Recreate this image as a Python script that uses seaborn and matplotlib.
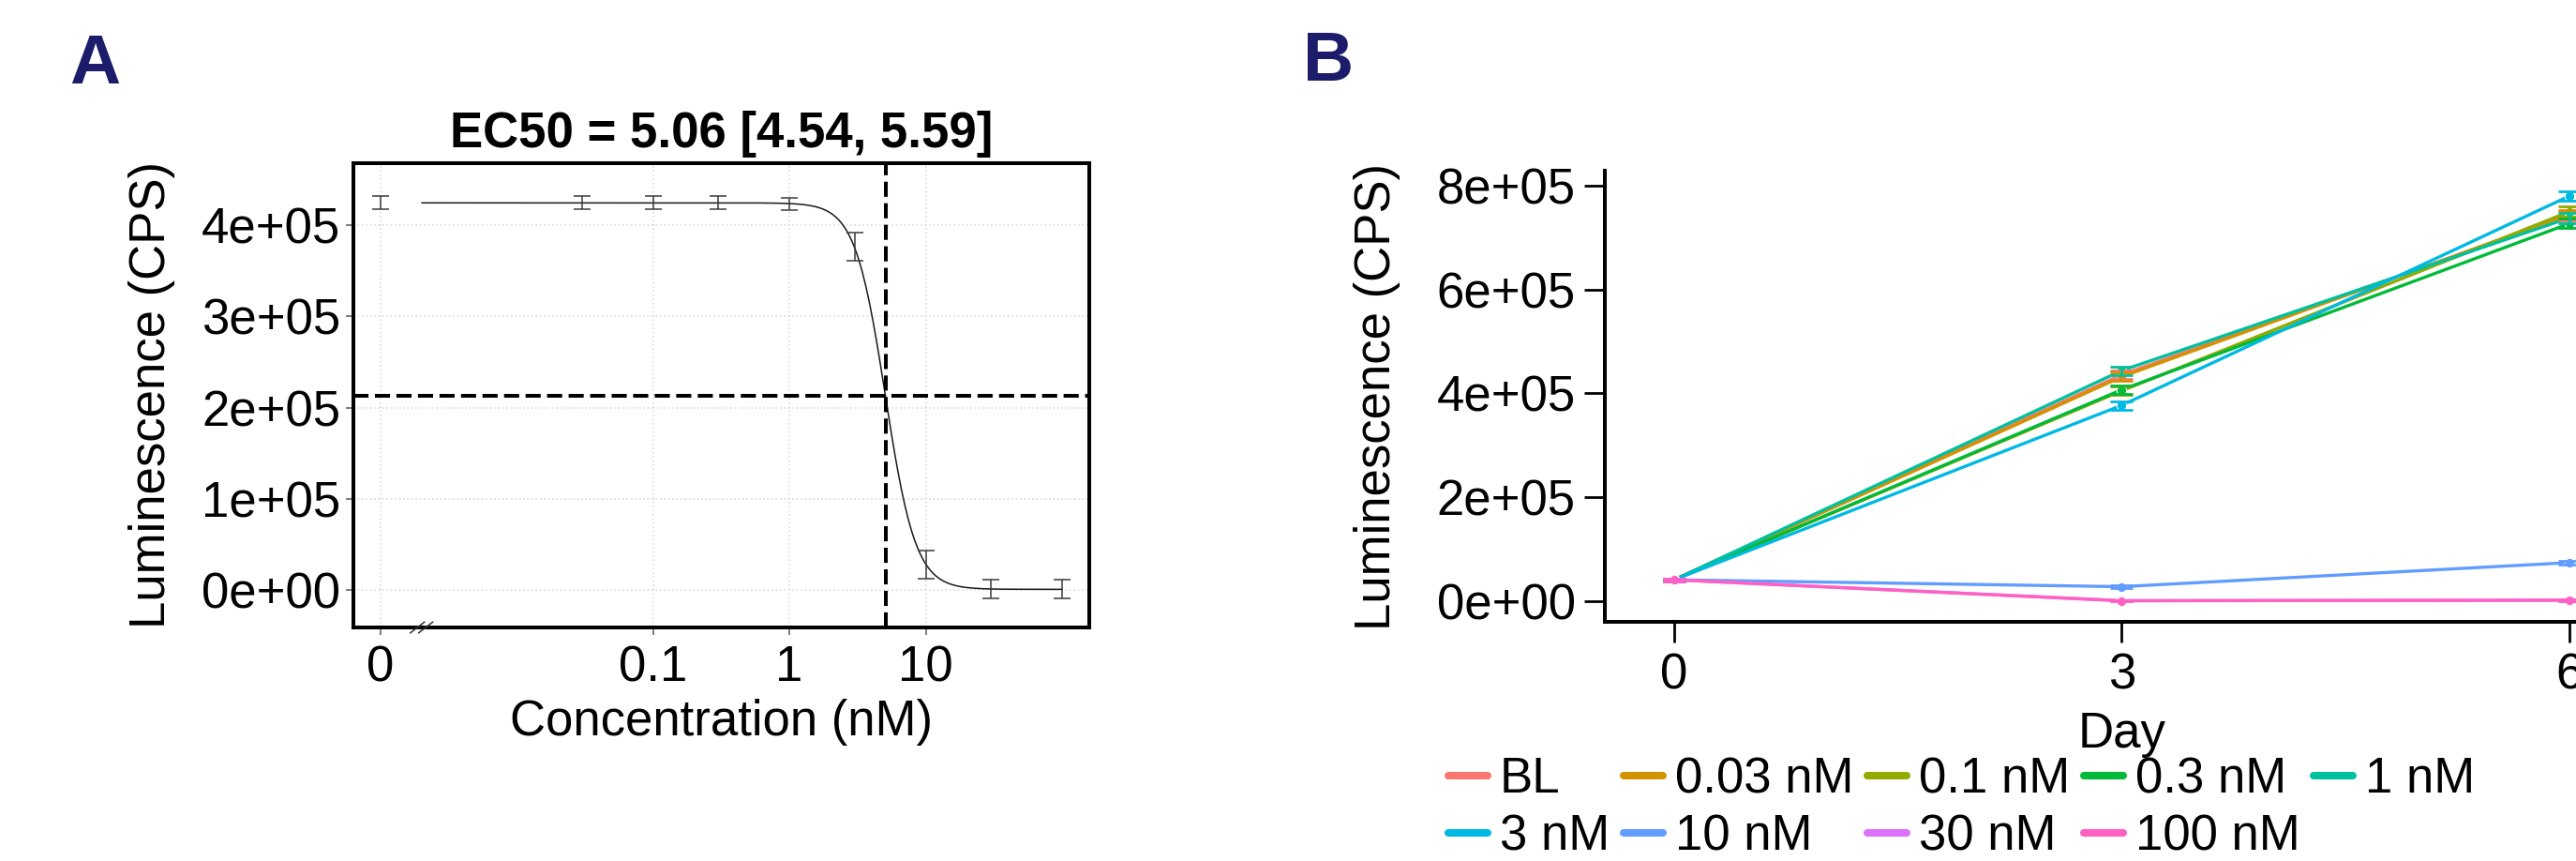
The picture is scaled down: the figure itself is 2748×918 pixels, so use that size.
import numpy as np
import pandas as pd
import matplotlib
matplotlib.use("Agg")
import matplotlib.pyplot as plt
import seaborn as sns
from matplotlib.transforms import blended_transform_factory

# ---------------- Panel A data ----------------
conc_tick_labels = ["0", "0.1", "1", "10"]
conc_tick_pos = [0.001, 0.1, 1, 10]          # "0" drawn at 0.001 (axis break)
conc_pos = [0.001, 0.03, 0.1, 0.3, 1, 3, 10, 30, 100]
lum_mean = [424600, 424600, 424600, 424600, 423500, 376000, 28000, 1400, 1200]
lum_sd = [7200, 7200, 7200, 7200, 6700, 15400, 15400, 10500, 10500]
fit_top = 424500
fit_bottom = 800
fit_hill = 3.9
ec50 = 5.06
ec50_ci = [4.54, 5.59]
curve_range = [0.002, 100]
break_pos = 0.002
a_yticks = [0, 100000, 200000, 300000, 400000]
a_ytick_labels = ["0e+00", "1e+05", "2e+05", "3e+05", "4e+05"]

# ---------------- Panel B data ----------------
days = [0, 3, 6]
groups = ["BL", "0.03 nM", "0.1 nM", "0.3 nM", "1 nM", "3 nM", "10 nM", "30 nM", "100 nM"]
palette = ["#F8766D", "#D39200", "#93AA00", "#00BA38", "#00C19F",
           "#00B9E3", "#619CFF", "#DB72FB", "#FF61C3"]
mean_BL = [41000, 436000, 743000]
mean_003 = [41000, 432000, 745000]
mean_01 = [41000, 405000, 750000]
mean_03 = [41000, 407000, 727000]
mean_1 = [41000, 444000, 738000]
mean_3 = [41000, 377000, 780000]
mean_10 = [41000, 27700, 74000]
mean_30 = [41000, 800, 1500]
mean_100 = [41000, 500, 1800]
sd_BL = [2500, 8000, 9000]
sd_003 = [2500, 8000, 9000]
sd_01 = [2500, 8000, 10000]
sd_03 = [2500, 8000, 9000]
sd_1 = [2500, 8000, 10000]
sd_3 = [2500, 8000, 9000]
sd_10 = [2500, 2500, 3000]
sd_30 = [2500, 1500, 1500]
sd_100 = [2500, 1500, 1500]
b_yticks = [0, 200000, 400000, 600000, 800000]
b_ytick_labels = ["0e+00", "2e+05", "4e+05", "6e+05", "8e+05"]

means = [mean_BL, mean_003, mean_01, mean_03, mean_1, mean_3, mean_10, mean_30, mean_100]
sds = [sd_BL, sd_003, sd_01, sd_03, sd_1, sd_3, sd_10, sd_30, sd_100]
rows = []
for g, m, s in zip(groups, means, sds):
    for d, mv, sv in zip(days, m, s):
        rows.append({"Day": d, "Group": g, "Lum": mv, "SD": sv})
dfB = pd.DataFrame(rows)

# ---------------- style ----------------
sns.set_style("white")
plt.rcParams["font.family"] = ["Liberation Sans", "DejaVu Sans"]
plt.rcParams["text.color"] = "black"
plt.rcParams["axes.labelcolor"] = "black"
plt.rcParams["xtick.color"] = "black"
plt.rcParams["ytick.color"] = "black"
FS = 38
W, H = 2748, 918
fig = plt.figure(figsize=(W / 100, H / 100), dpi=100)

# ================= Panel A =================
axA = fig.add_axes([377 / W, 1 - 669 / H, 785 / W, 495 / H])
axA.set_xscale("log")

xs = np.logspace(np.log10(curve_range[0]), np.log10(curve_range[1]), 400)
ys = fit_bottom + (fit_top - fit_bottom) / (1 + (xs / ec50) ** fit_hill)
sns.lineplot(x=xs, y=ys, ax=axA, color="#1a1a1a", linewidth=1.1, errorbar=None)
axA.errorbar(conc_pos, lum_mean, yerr=lum_sd, fmt="none", ecolor="#3a3a3a",
             elinewidth=1.1, capsize=6.8, capthick=1.1)
axA.axvline(ec50, color="black", linestyle=(0, (4, 1.7)), linewidth=2.9)
axA.axhline((fit_top + fit_bottom) / 2, color="black", linestyle=(0, (4, 1.7)), linewidth=2.9)

axA.set_xlim(10 ** -3.2, 10 ** 2.2)
axA.set_ylim(-41000, 468000)
axA.set_xticks(conc_tick_pos)
axA.set_xticklabels(conc_tick_labels)
axA.xaxis.set_minor_locator(matplotlib.ticker.NullLocator())
axA.set_yticks(a_yticks)
axA.set_yticklabels(a_ytick_labels)
axA.grid(True, which="major", color="#D9D9D9", linestyle=":", linewidth=1.2)
axA.set_axisbelow(True)
for sp in axA.spines.values():
    sp.set_visible(True)
    sp.set_color("black")
    sp.set_linewidth(2.9)
axA.tick_params(axis="both", which="major", length=6, width=1.2, color="#666666",
                labelsize=FS, labelcolor="black", bottom=True, left=True)
axA.tick_params(axis="x", pad=7)
axA.tick_params(axis="y", pad=4)
axA.set_xlabel("Concentration (nM)", fontsize=FS, labelpad=6)
axA.set_ylabel("Luminescence (CPS)", fontsize=FS, labelpad=20)
axA.set_title(f"EC50 = {ec50:.2f} [{ec50_ci[0]:.2f}, {ec50_ci[1]:.2f}]",
              fontsize=FS, fontweight="bold", pad=12, color="black")

# axis break marks
tr = blended_transform_factory(axA.transData, axA.transAxes)
for off in (0.93, 1.07):
    xb = break_pos * off
    axA.plot([xb / 1.13, xb * 1.13], [-0.012, 0.012], transform=tr, color="#333333",
             linewidth=1.1, clip_on=False, zorder=5)

# ================= Panel B =================
axB = fig.add_axes([1712 / W, 1 - 663 / H, 1102.6 / W, 481 / H])
sns.lineplot(data=dfB, x="Day", y="Lum", hue="Group", hue_order=groups,
             palette=palette, ax=axB, linewidth=2.4, marker="o", markersize=7.5,
             markeredgecolor="white", markeredgewidth=0.8, errorbar=None, legend=False)
for g, c in zip(groups, palette):
    sub = dfB[dfB["Group"] == g]
    axB.errorbar(sub["Day"], sub["Lum"], yerr=sub["SD"], fmt="none", ecolor=c,
                 elinewidth=2.0, capsize=8.5, capthick=2.0, zorder=3)

axB.set_xlim(-0.465, 6.465)
axB.set_ylim(-40000, 829000)
axB.set_xticks(days)
axB.set_xticklabels([str(d) for d in days])
axB.set_yticks(b_yticks)
axB.set_yticklabels(b_ytick_labels)
axB.spines["top"].set_visible(False)
axB.spines["right"].set_visible(False)
for s in ("left", "bottom"):
    axB.spines[s].set_color("black")
    axB.spines[s].set_linewidth(2.9)
axB.tick_params(axis="both", length=15.5, width=2.0, color="black", labelsize=FS,
                bottom=True, left=True)
axB.tick_params(axis="x", pad=8)
axB.tick_params(axis="y", pad=7)
axB.set_xlabel("Day", fontsize=FS, labelpad=9)
axB.set_ylabel("Luminescence (CPS)", fontsize=FS, labelpad=28)

# legend filled row by row (2 rows x 5 columns)
ncol = 5
nrow = 2
order = [r * ncol + c for c in range(ncol) for r in range(nrow) if r * ncol + c < len(groups)]
handles = [matplotlib.lines.Line2D([], [], color=palette[i], linewidth=5.8) for i in order]
labels = [groups[i] for i in order]
fig.legend(handles, labels, loc="center left", bbox_to_anchor=(1545 / W, 1 - 862 / H),
           ncol=ncol, frameon=False, fontsize=FS, handlelength=0.79, handletextpad=0.25,
           columnspacing=0.28, labelspacing=0.22, borderpad=0, borderaxespad=0)

# panel letters
fig.text(74 / W, 1 - 35 / H, "A", fontsize=54, fontweight="bold", color="#1C1C6B",
         ha="left", va="top")
fig.text(1390 / W, 1 - 32 / H, "B", fontsize=54, fontweight="bold", color="#1C1C6B",
         ha="left", va="top")

fig.savefig("out.png", dpi=100)
